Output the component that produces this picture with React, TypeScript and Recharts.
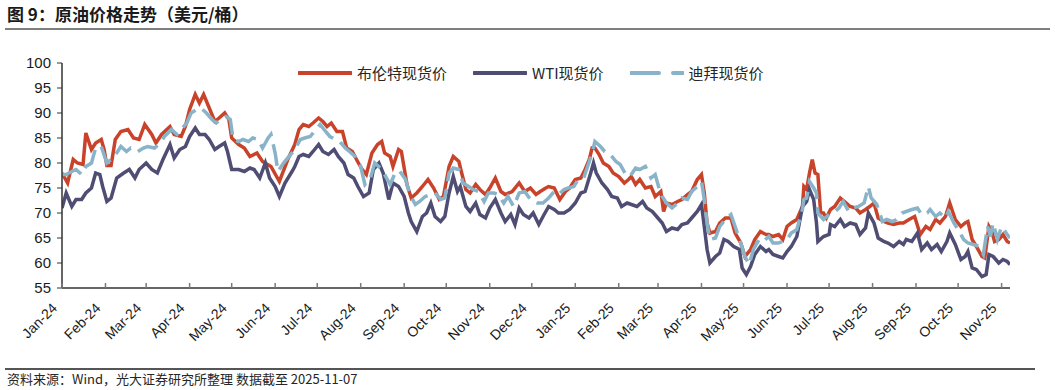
import React from 'react';
import { LineChart, Line, XAxis, YAxis, Legend } from 'recharts';

// x values are calendar days counted from 2024-01-01
const monthTicks = [0, 31, 60, 91, 121, 152, 182, 213, 244, 274, 305, 335, 366, 397, 425, 456, 486, 517, 547, 578, 609, 639, 670];
const monthLabels = ['Jan-24', 'Feb-24', 'Mar-24', 'Apr-24', 'May-24', 'Jun-24', 'Jul-24', 'Aug-24', 'Sep-24', 'Oct-24', 'Nov-24', 'Dec-24',
  'Jan-25', 'Feb-25', 'Mar-25', 'Apr-25', 'May-25', 'Jun-25', 'Jul-25', 'Aug-25', 'Sep-25', 'Oct-25', 'Nov-25'];
const yTicks = [55, 60, 65, 70, 75, 80, 85, 90, 95, 100];

const seriesNames = ['布伦特现货价', 'WTI现货价', '迪拜现货价'];
const seriesColors = ['#C9432B', '#4F4D73', '#88B3C8'];

const brent: [number, number][] = [
  [0, 78], [4, 76], [8, 80.7], [11, 80], [15, 79.7], [17, 86], [21, 82.7], [24, 84], [28, 84.7], [30, 82.7], [32, 79.5], [35, 79.5], [38, 84.7], [42, 86.3], [47, 86.7], [51, 85], [55, 84.7], [59, 87.7], [64, 85.7], [67, 84], [71, 85.7], [77, 87.3], [80, 85.7], [85, 85.3], [88, 87.3], [91, 90.7], [95, 93.7], [98, 92], [101, 93.7], [105, 91], [109, 88.3], [112, 89], [116, 90], [119, 88.7], [121, 85], [126, 83.7], [130, 83], [134, 81.3], [139, 82], [143, 80.3], [149, 79.3], [155, 76.3], [161, 80.7],
  [166, 83.7], [169, 86.7], [172, 87.7], [176, 87.3], [179, 88], [183, 89], [186, 88.3], [189, 87.3], [192, 88], [196, 86.3], [200, 86.3], [203, 83], [207, 82.3], [210, 80.7], [214, 78.7], [217, 77.7], [221, 82], [225, 83.7], [228, 84.3], [230, 82], [234, 81.3], [236, 79.3], [240, 82.7], [242, 82.3], [244, 79], [246, 75.7], [249, 73], [253, 74], [257, 75.3], [261, 76.7], [265, 75], [269, 72.7], [272, 73.3], [276, 79.3], [279, 81.3], [283, 80.3], [285, 78], [288, 74.7], [291, 74], [295, 75.7], [298, 74.7], [302, 73.7], [305, 75], [309, 77], [313, 74.3], [316, 73.7], [321, 74.3], [326, 76], [330, 74.3],
  [334, 75], [338, 73.7], [341, 74.3], [345, 75], [347, 75.3], [351, 75], [355, 72.7], [359, 74.3], [362, 75], [366, 76.7], [370, 77], [373, 78.7], [376, 80.7], [378, 83], [380, 83], [383, 81.7], [386, 80], [390, 79.3], [393, 78], [397, 77.3], [401, 76], [404, 76.7], [406, 77.3], [409, 75.7], [412, 76.7], [416, 75], [420, 75.3], [423, 73.3], [427, 74.3], [429, 70.3], [431, 72], [435, 71.7], [439, 72.3], [442, 72.7], [446, 73.7], [449, 74.3], [453, 76.7], [456, 77.7], [458, 74], [460, 68], [462, 66], [466, 66.3], [469, 68], [473, 69], [477, 69], [480, 66], [484, 64], [487, 61.3], [491, 62.7], [494, 64.7], [498, 66.3], [502, 65.7],
  [504, 65.7], [507, 65.3], [511, 65.7], [514, 64.7], [517, 67.3], [520, 68], [524, 68.7], [528, 71.3], [529, 75.3], [531, 74.7], [533, 78], [535, 80.7], [537, 78], [539, 77.7], [541, 70], [543, 70], [545, 69], [548, 70.7], [551, 71.3], [555, 73], [558, 72.3], [562, 71.3], [566, 71], [569, 70], [573, 70.7], [576, 71.3], [579, 72], [582, 69], [586, 68.3], [589, 68], [593, 67.7], [597, 68], [600, 68], [604, 68.7], [608, 69.3], [612, 65.7], [616, 67.3], [619, 66.7], [623, 68.7], [626, 68], [630, 69.3], [633, 72], [637, 68.7], [641, 67.3], [644, 68], [646, 68.3], [649, 64.7], [652, 63.3], [656, 61.3], [658, 61], [661, 67.3], [663, 66.3], [665, 64.3], [668, 64.7], [671, 65.7], [674, 64.3], [676, 64],
];

const wti: [number, number][] = [
  [0, 71], [3, 74], [7, 71.3], [10, 72.7], [14, 72.7], [17, 74], [21, 75], [24, 78], [27, 77.7], [29, 75.3], [32, 72.3], [35, 73], [39, 77], [44, 78], [48, 78.7], [52, 77], [55, 78.7], [60, 80], [64, 78.7], [68, 78], [72, 80.7], [77, 83.7], [80, 81], [84, 82.7], [88, 83.3], [91, 85.3], [95, 87], [98, 85.7], [102, 85.7], [105, 84.7], [109, 82.7], [112, 83.3], [116, 84], [118, 82.3], [121, 78.7], [126, 78.7], [130, 78.3], [134, 79], [137, 78.7], [141, 77], [145, 80], [148, 77], [152, 75.3], [155, 73.3], [159, 76], [164, 78.3],
  [166, 79.3], [169, 81.3], [172, 81.7], [176, 81.3], [179, 82.3], [183, 83.7], [186, 82.3], [190, 81.7], [194, 82.7], [197, 81.3], [201, 80], [204, 77.7], [208, 77], [211, 75.3], [215, 73.3], [219, 74], [222, 78.7], [226, 80], [229, 78], [233, 72.7], [236, 76], [240, 75.3], [244, 73.3], [247, 70], [249, 68.3], [253, 66.3], [257, 69.3], [260, 70], [263, 72], [266, 69.3], [270, 68.3], [273, 69.3], [276, 74], [279, 77.3], [282, 74.3], [284, 75.3], [288, 71.3], [291, 70.3], [295, 72], [298, 69.7], [302, 69], [305, 71], [309, 72.7], [313, 70], [316, 68.3], [320, 69.7], [323, 67.7], [326, 71], [329, 69.7], [333, 69],
  [336, 70], [340, 67.7], [343, 69.3], [347, 71.3], [351, 70.7], [354, 70], [358, 70], [362, 70.7], [366, 72], [370, 74], [373, 74.3], [377, 78], [379, 80], [381, 78], [385, 76], [389, 74.7], [392, 73.3], [396, 73], [399, 71.3], [403, 72], [406, 71.7], [410, 71.3], [414, 72.3], [417, 71], [421, 70.3], [424, 69.3], [428, 68], [431, 66.3], [435, 67], [439, 66.7], [442, 67.7], [446, 68], [449, 69], [453, 70.3], [456, 71.7], [458, 67.3], [460, 62.7], [462, 60], [466, 61.3], [469, 62], [472, 64.7], [475, 64.3], [479, 63.3], [483, 62.7], [485, 59], [488, 57.7], [491, 59.3], [494, 61.7], [498, 63.3], [502, 62.3],
  [504, 62.7], [507, 61.7], [511, 61.3], [514, 61], [517, 62.3], [520, 63.3], [524, 65.3], [528, 71.3], [531, 72.3], [533, 74.7], [536, 72.7], [538, 68], [539, 64.3], [543, 65.3], [547, 65.7], [548, 67.7], [551, 67.3], [555, 68.7], [558, 67.3], [562, 68], [566, 67.7], [569, 65.7], [573, 67], [575, 70], [579, 68], [582, 65], [586, 64.3], [589, 64], [593, 63.3], [597, 64.3], [600, 63.7], [602, 64.7], [606, 64.3], [610, 66], [613, 62.7], [617, 64], [620, 62.7], [624, 63.7], [627, 62.3], [631, 64.3], [633, 66], [637, 63.7], [641, 60.7], [644, 61.3], [646, 62.3], [649, 59], [652, 58.7], [656, 57.3], [659, 57.7], [661, 61.7], [664, 61.3], [668, 60], [671, 60.7], [674, 60.3], [676, 59.7],
];

const dubai: [number, number][] = [
  [0, 77.7], [3, 77.7], [7, 78.3], [10, 78.7], [14, 77.7], [17, 79.3], [21, 80], [24, 83], [28, 83.3], [32, 80], [35, 80.7], [39, 82], [42, 83.3], [46, 82.3], [49, 83], [54, 82.3], [58, 83], [61, 83.3], [66, 83], [70, 84], [73, 85.3], [78, 86.7], [82, 85.7], [85, 86.7], [89, 88], [92, 90], [96, 90.7], [99, 91], [103, 90], [107, 88.7], [110, 88], [114, 89], [117, 89.3], [120, 88.7], [122, 84.7], [126, 84.3], [129, 84.7], [133, 84.3], [136, 85], [140, 84.7], [143, 83], [147, 85], [149, 85.7], [152, 82], [154, 78.3], [158, 80], [161, 81],
  [166, 82.7], [170, 84.7], [173, 85], [177, 85.3], [181, 86.7], [184, 87.7], [188, 86.3], [191, 85.3], [195, 84.7], [198, 84.3], [202, 83], [205, 82.3], [209, 81.3], [213, 79.3], [216, 75.7], [220, 77], [223, 80], [227, 79], [230, 77.7], [234, 75.7], [238, 78.3], [241, 78.3], [245, 76.7], [248, 73.7], [252, 71.7], [255, 72.3], [259, 73.3], [263, 73.7], [266, 74], [270, 72.7], [273, 73], [276, 78], [279, 79], [283, 78.7], [286, 76], [290, 75.3], [293, 74.7], [297, 74.3], [301, 72.3], [304, 74], [308, 74], [311, 73.7], [315, 72], [318, 73.3], [322, 71.3], [326, 74], [330, 74.3],
  [334, 72.7], [339, 72], [343, 72], [347, 73], [351, 74.3], [354, 73.7], [358, 74.7], [361, 75], [365, 75.3], [368, 76.7], [372, 77], [376, 80.3], [378, 82], [380, 84.3], [384, 83.3], [387, 82.3], [391, 81.7], [395, 80.3], [398, 79.7], [402, 77.7], [405, 77.3], [409, 79], [412, 78.7], [416, 79.3], [420, 77], [423, 77.7], [426, 74.7], [428, 73.3], [431, 72], [435, 71], [439, 72], [442, 73], [446, 72.7], [449, 74.3], [453, 75.3], [456, 76.3], [458, 72.7], [460, 68], [462, 64.7], [466, 65], [469, 67.3], [473, 68.7], [477, 69.7], [480, 67.3], [484, 64], [487, 61.3], [490, 59.7], [493, 62.7], [497, 64.7], [500, 64.3],
  [504, 65.3], [507, 64], [511, 64], [514, 64.3], [517, 64.7], [520, 66], [524, 66.7], [528, 70.7], [529, 72.7], [531, 73], [533, 76.3], [536, 75], [538, 74], [539, 70], [543, 68.7], [547, 69.7], [550, 70], [554, 71], [557, 72.3], [561, 70.3], [564, 71], [568, 71.3], [572, 72], [575, 75.3], [577, 73], [581, 71.7], [585, 68.3], [588, 68.7], [592, 68.3], [595, 68.7], [599, 70], [602, 70.3], [606, 70.7], [610, 71], [613, 69.7], [617, 70], [619, 70.7], [623, 69.3], [626, 70], [630, 69], [632, 70.3], [636, 68], [639, 66.7], [643, 64.7], [646, 64], [650, 63.7], [654, 63.3], [657, 61.7], [660, 67.3], [662, 65.3], [664, 68], [667, 64.7], [670, 67.3], [674, 65.7], [676, 65],
];

const toRows = (pts: [number, number][]) => pts.map(([d, v]) => ({ d, v }));

const numFont = '"Liberation Sans", Arial, sans-serif';
const cjkFont = '"Noto Sans CJK SC", "Noto Sans", sans-serif';

const XTick = (props: any) => {
  const { x, y, payload } = props;
  const idx = monthTicks.indexOf(payload.value);
  const label = idx >= 0 ? monthLabels[idx] : '';
  return (
    <g>
      <line x1={x} x2={x} y1={y} y2={y - 5} stroke="#7a7a7a" strokeWidth={1.5} />
      <text
        transform={`translate(${x - 4},${y + 21}) rotate(-45)`}
        textAnchor="end"
        fontSize={14}
        fontFamily={numFont}
        fill="#1a1a1a"
      >
        {label}
      </text>
    </g>
  );
};

const LegendContent = () => (
  <div style={{ display: 'flex', alignItems: 'center', fontFamily: cjkFont, fontSize: 15, color: '#262626', whiteSpace: 'nowrap' }}>
    {seriesNames.map((name, i) => (
      <div key={name} style={{ display: 'flex', alignItems: 'center', marginRight: 26 }}>
        <svg width={54} height={8} style={{ marginRight: 5 }}>
          <line
            x1={1} x2={53} y1={4} y2={4}
            stroke={seriesColors[i]}
            strokeWidth={4}
            strokeLinecap="round"
            strokeDasharray={i === 2 ? '28 14' : undefined}
          />
        </svg>
        <span>{name}</span>
      </div>
    ))}
  </div>
);

export default function App() {
  return (
    <div style={{ position: 'absolute', left: 0, top: 0, width: 1055, height: 390, background: '#fff', fontFamily: cjkFont }}>
      <div style={{ position: 'absolute', left: 7, top: 2, fontSize: 17, fontWeight: 700, lineHeight: '24px', color: '#1a1a1a' }}>
        图 9：原油价格走势（美元/桶）
      </div>
      <div style={{ position: 'absolute', left: 5, top: 28, width: 1045, height: 2, background: '#7f7f7f' }} />
      <LineChart width={1055} height={390} margin={{ top: 63, right: 45, bottom: 42, left: 0 }}>
        <XAxis
          dataKey="d"
          type="number"
          domain={[0, 676]}
          ticks={monthTicks}
          interval={0}
          allowDataOverflow
          height={60}
          axisLine={{ stroke: '#333', strokeWidth: 1.5 }}
          tickLine={false}
          tickSize={0}
          tickMargin={0}
          tick={<XTick />}
        />
        <YAxis
          type="number"
          domain={[55, 100]}
          ticks={yTicks}
          interval={0}
          allowDataOverflow
          width={62}
          axisLine={{ stroke: '#333', strokeWidth: 1.5 }}
          tickLine={{ stroke: '#333' }}
          tickSize={5}
          tickMargin={6}
          tick={{ fontSize: 15, fill: '#1a1a1a', fontFamily: numFont }}
        />
        <Legend
          layout="horizontal"
          verticalAlign="middle"
          align="center"
          wrapperStyle={{ top: 62, left: 298, width: 'auto' }}
          content={<LegendContent />}
        />
        <Line data={toRows(brent)} dataKey="v" name={seriesNames[0]} type="linear" stroke={seriesColors[0]} strokeWidth={3.5} dot={false} activeDot={false} isAnimationActive={false} />
        <Line data={toRows(wti)} dataKey="v" name={seriesNames[1]} type="linear" stroke={seriesColors[1]} strokeWidth={3.5} dot={false} activeDot={false} isAnimationActive={false} />
        <Line data={toRows(dubai)} dataKey="v" name={seriesNames[2]} type="linear" stroke={seriesColors[2]} strokeWidth={3.5} strokeDasharray="22 8" dot={false} activeDot={false} isAnimationActive={false} />
      </LineChart>
      <div style={{ position: 'absolute', left: 5, top: 368, width: 1030, height: 2, background: '#555' }} />
      <div style={{ position: 'absolute', left: 7, top: 371, fontSize: 13, lineHeight: '16px', color: '#262626' }}>
        资料来源：Wind，光大证券研究所整理 数据截至 2025-11-07
      </div>
    </div>
  );
}
